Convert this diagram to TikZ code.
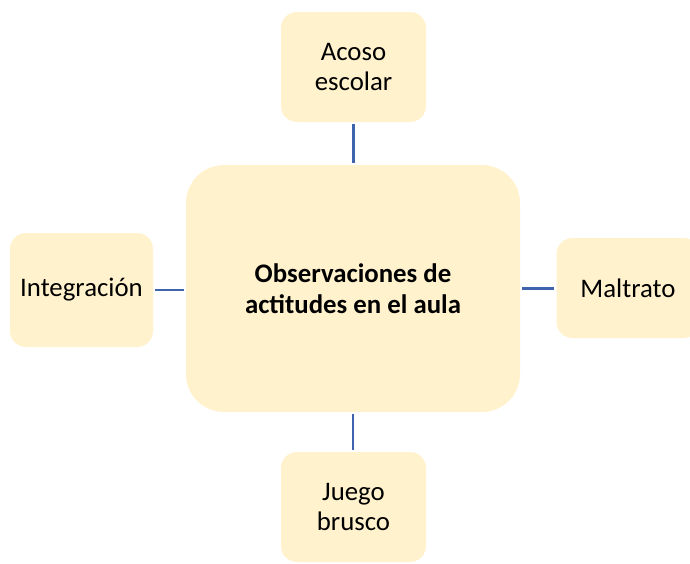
\documentclass[tikz,border=0pt]{standalone}
\usepackage{fontspec}
\setmainfont{Carlito}
\definecolor{boxfill}{HTML}{FFF2CC}
\definecolor{linkblue}{HTML}{3F64AE}

\begin{document}
\begin{tikzpicture}[x=1pt, y=-1pt, line width=0.5pt,
    topic/.style={fill=boxfill, draw=none, rounded corners=16pt, align=center,
      font=\fontsize{26.8}{30}\selectfont, inner sep=0pt},
    link/.style={draw=linkblue, line width=2.4pt, shorten <=2pt, shorten >=2pt}]
  \clip (0,0) rectangle (690,563);
  \node[topic, minimum width=334pt, minimum height=247pt, rounded corners=38pt,
    font=\bfseries\fontsize{26.8}{31}\selectfont] (main) at (353,288.5)
    {Observaciones de\\actitudes en el aula};
  \node[topic, minimum width=145pt, minimum height=110pt] (acoso) at (353.5,67) {Acoso\\escolar};
  \node[topic, minimum width=143pt, minimum height=114pt] (integ) at (81.5,290) {Integración};
  \node[topic, minimum width=143pt, minimum height=100pt] (maltr) at (628,288) {Maltrato};
  \node[topic, minimum width=145pt, minimum height=110pt] (juego) at (353.5,507) {Juego\\brusco};
  \draw[link] (acoso.south) -- (acoso.south |- main.north);
  \draw[link] (main.south) -- (main.south |- juego.north);
  \draw[link] (integ.east) -- (integ.east -| main.west);
  \draw[link] (main.east) -- (main.east -| maltr.west);
\end{tikzpicture}
\end{document}
